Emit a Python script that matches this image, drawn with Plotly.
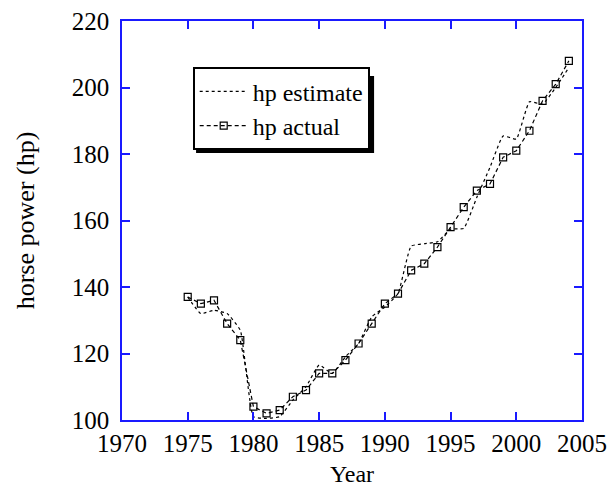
import plotly.graph_objects as go

years = list(range(1975, 2005))
hp_actual = [137, 135, 136, 129, 124, 104, 102, 103, 107, 109,
             114, 114, 118, 123, 129, 135, 138, 145, 147, 152,
             158, 164, 169, 171, 179, 181, 187, 196, 201, 208]
hp_estimate = [137, 132, 133, 132, 127, 101, 100.5, 101, 106, 110,
               116.5, 114, 119, 123, 131, 134, 138, 152.3, 153, 153.6,
               157.4, 157.6, 167, 176, 185.4, 184.5, 195.7, 195, 200, 206]

x_ticks = [1970, 1975, 1980, 1985, 1990, 1995, 2000, 2005]
y_ticks = [100, 120, 140, 160, 180, 200, 220]

FONT = "Liberation Serif, Times New Roman, serif"
BLUE = "#1a1aff"

fig = go.Figure()
fig.add_trace(go.Scatter(
    x=years, y=hp_estimate, name="hp estimate", mode="lines",
    line=dict(color="black", width=1.2, dash="dot", shape="spline", smoothing=0.4),
))
fig.add_trace(go.Scatter(
    x=years, y=hp_actual, name="hp actual", mode="lines+markers",
    line=dict(color="black", width=1.2, dash="4px,3px"),
    marker=dict(symbol="square-open", size=7, color="black", line=dict(width=1.2)),
))

# legend drop shadow
fig.add_shape(type="rect", xref="paper", yref="paper",
              x0=0.161, x1=0.548, y0=0.669, y1=0.862,
              fillcolor="black", line=dict(width=0), layer="below")

fig.update_layout(
    width=609, height=487,
    margin=dict(l=122, r=27, t=21, b=67, autoexpand=False),
    paper_bgcolor="white", plot_bgcolor="white",
    font=dict(family=FONT, size=25, color="black"),
    showlegend=True,
    legend=dict(x=0.1537, y=0.884, xanchor="left", yanchor="top",
                bgcolor="white", bordercolor="black", borderwidth=2,
                font=dict(family=FONT, size=24), itemwidth=48,
                tracegroupgap=0),
    xaxis=dict(range=[1970, 2005], tickvals=x_ticks, ticks="inside", ticklen=8,
               tickcolor=BLUE, tickwidth=1.5, showline=True, linecolor=BLUE,
               linewidth=1.5, mirror="allticks", showgrid=False, zeroline=False,
               automargin=False,
               title=dict(text="Year", standoff=10, font=dict(size=24)),
               tickfont=dict(size=25)),
    yaxis=dict(range=[100, 220], tickvals=y_ticks, ticks="inside", ticklen=8,
               tickcolor=BLUE, tickwidth=1.5, showline=True, linecolor=BLUE,
               linewidth=1.5, mirror="allticks", showgrid=False, zeroline=False,
               automargin=False, ticklabelstandoff=6,
               title=dict(text="horse power (hp)", standoff=30, font=dict(size=26)),
               tickfont=dict(size=25)),
)

fig.write_html("out.html")
